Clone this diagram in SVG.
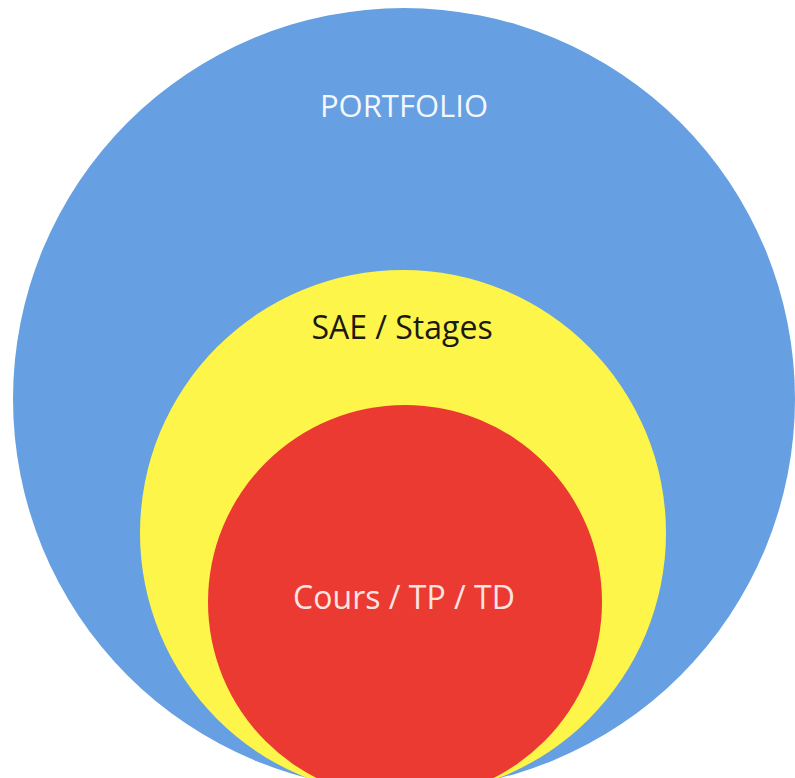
<svg xmlns="http://www.w3.org/2000/svg" width="795" height="778" viewBox="0 0 795 778">
<style>
.lbl{font-family:"Open Sans","Noto Sans","Liberation Sans",sans-serif;text-anchor:middle;font-size:32px}
</style>
<rect width="795" height="778" fill="#ffffff"/>
<g id="portfolio">
<ellipse cx="404" cy="399" rx="391" ry="391" fill="#669fe2"/>
<text class="lbl" x="404" y="117" fill="#f4f7fc" style="font-size:31px">PORTFOLIO</text>
</g>
<g id="sae">
<circle cx="403" cy="533" r="263" fill="#fef54a"/>
<text class="lbl" x="402" y="339" fill="#1a1a10">SAE / Stages</text>
</g>
<g id="cours">
<circle cx="405" cy="602" r="197" fill="#ea3a32"/>
<text class="lbl" x="404" y="609" fill="#fbe3e2">Cours / TP / TD</text>
</g>
<g id="connectors"></g>
</svg>
